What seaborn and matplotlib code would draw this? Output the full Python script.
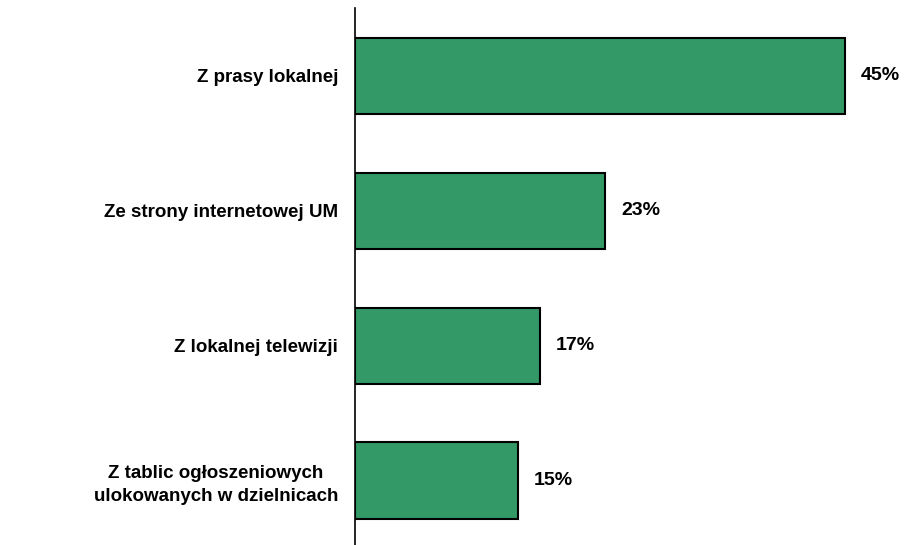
import pandas as pd
import matplotlib.pyplot as plt
import seaborn as sns

categories = [
    "Z prasy lokalnej",
    "Ze strony internetowej UM",
    "Z lokalnej telewizji",
    "Z tablic ogłoszeniowych\nulokowanych w dzielnicach",
]
values = [45, 23, 17, 15]

df = pd.DataFrame({"source": categories, "pct": values})

sns.set_style("white")
plt.rcParams["font.family"] = ["Liberation Sans", "DejaVu Sans"]
plt.rcParams["text.color"] = "black"
plt.rcParams["ytick.color"] = "black"
plt.rcParams["ytick.labelcolor"] = "black"

fig = plt.figure(figsize=(9.22, 5.45), dpi=100)
ax = fig.add_axes([0.385, -0.0055, 0.5906, 0.9908])

sns.barplot(
    data=df,
    y="source",
    x="pct",
    orient="h",
    color="#339966",
    edgecolor="black",
    linewidth=1.5,
    width=0.563,
    saturation=1,
    ax=ax,
)

ax.set_xlim(0, 50)
ax.set_ylim(3.5, -0.5)
ax.set_xlabel("")
ax.set_ylabel("")
ax.set_xticks([])
for s in ["top", "right", "bottom"]:
    ax.spines[s].set_visible(False)
ax.spines["left"].set_color("black")
ax.spines["left"].set_linewidth(1.2)

ax.tick_params(axis="y", length=0, pad=12, colors="black")
for lbl in ax.get_yticklabels():
    lbl.set_fontsize(13.5)
    lbl.set_fontweight("bold")
    lbl.set_multialignment("center")
    lbl.set_linespacing(1.45)
    lbl.set_color("black")

for i, v in enumerate(values):
    ax.text(v + 1.45, i, f"{v}%", va="center", ha="left",
            fontsize=14, fontweight="bold", color="black")

fig.savefig("out.png", dpi=100)
